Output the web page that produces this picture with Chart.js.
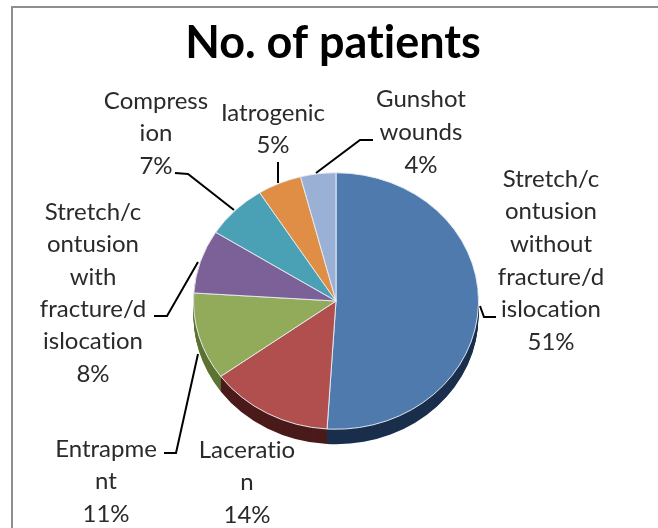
<!DOCTYPE html>
<html>
<head>
<meta charset="utf-8">
<script src="https://cdn.jsdelivr.net/npm/chart.js@4"></script>
<style>
html,body{margin:0;padding:0;background:#fff;overflow:hidden;width:658px;height:528px}
#frame{position:absolute;left:11px;top:6px;right:0;bottom:0;border-left:2px solid #8e8e8e;border-top:2px solid #8e8e8e}
#wrap{position:absolute;left:0;top:0;width:658px;height:528px;filter:blur(0.45px)}
</style>
</head>
<body>
<div id="frame"></div>
<div id="wrap"><canvas id="c" width="658" height="528"></canvas></div>
<script>
const titleText = "No. of patients";
const categories = ["Stretch/contusion without fracture/dislocation","Laceration","Entrapment","Stretch/contusion with fracture/dislocation","Compression","Iatrogenic","Gunshot wounds"];
const percentValues = [51,14,11,8,7,5,4];
const sliceColors = ["#4f7aad","#b04f4e","#92ab5b","#7c6198","#4aa0b5","#e08e46","#9ab0d4"];
const sideColors = ["#1a2f4c","#4a1b1a","#5c7331","#4a3a5c","#2c6070","#8a5526","#5f6d85"];
const wrappedLabels = [
  ["Stretch/c","ontusion","without","fracture/d","islocation"],
  ["Laceratio","n"],
  ["Entrapme","nt"],
  ["Stretch/c","ontusion","with","fracture/d","islocation"],
  ["Compress","ion"],
  ["Iatrogenic"],
  ["Gunshot","wounds"]
];
const labelCenterX = [551,247,106,93,156,273,421];
const labelFirstY = [179,450,449,212,101,113,99];
const labelLineGap = [32.6,32.5,32.5,32.4,32.5,32,33];
const leaderPaths = [
  [[480,306],[484,317],[496,317]],
  [],
  [[164,453],[176,453],[198,354]],
  [[154,316],[167,316],[198,262]],
  [[175,173],[188,174],[234,210]],
  [[278,162],[278,183]],
  [[373,140],[360,140],[316,173]]
];
const ySquash = 0.9;
const sideDepth = 15;

const pieCentreY = 301;
function squash(ctx){
  ctx.translate(0,pieCentreY);
  ctx.scale(1,ySquash);
  ctx.translate(0,-pieCentreY);
}
const tiltPlugin = {
  id:"tilt",
  beforeDatasetsDraw(chart){
    const ctx = chart.ctx;
    const arcs = chart.getDatasetMeta(0).data;
    ctx.save();
    squash(ctx);
    for(let i=arcs.length-1;i>=0;i--){
      const a = arcs[i];
      ctx.fillStyle = sideColors[i];
      for(let d=sideDepth;d>=1;d--){
        const cy = a.y + d/ySquash;
        ctx.beginPath();
        ctx.moveTo(a.x,cy);
        ctx.arc(a.x,cy,a.outerRadius,a.startAngle,a.endAngle);
        ctx.closePath();
        ctx.fill();
      }
    }
  },
  afterDatasetsDraw(chart){
    const ctx = chart.ctx;
    ctx.restore();
    ctx.save();
    ctx.strokeStyle = "#000";
    ctx.lineWidth = 2;
    leaderPaths.forEach(p=>{
      if(!p.length) return;
      ctx.beginPath();
      p.forEach((q,i)=> i? ctx.lineTo(q[0],q[1]) : ctx.moveTo(q[0],q[1]));
      ctx.stroke();
    });
    ctx.textAlign = "center";
    ctx.textBaseline = "middle";
    ctx.textRendering = "optimizeSpeed";
    ctx.fillStyle = "#000";
    ctx.font = "bold 45px Lato";
    ctx.fillText(titleText,333,43);
    ctx.fillStyle = "#2a2a2a";
    ctx.font = "24px Lato";
    wrappedLabels.forEach((lines,i)=>{
      const all = lines.concat([percentValues[i]+"%"]);
      all.forEach((t,j)=>ctx.fillText(t,labelCenterX[i],labelFirstY[i]+j*labelLineGap[i]));
    });
    ctx.restore();
  }
};
new Chart(document.getElementById("c"),{
  type:"pie",
  data:{labels:categories,datasets:[{data:percentValues,backgroundColor:sliceColors,borderColor:"#e8ecf2",borderWidth:1,clip:false}]},
  options:{
    responsive:false,
    animation:false,
    layout:{padding:{left:193,right:179,top:158,bottom:84}},
    plugins:{
      legend:{display:false},
      tooltip:{enabled:false},
      title:{display:false}
    }
  },
  plugins:[tiltPlugin]
});
</script>
</body>
</html>
